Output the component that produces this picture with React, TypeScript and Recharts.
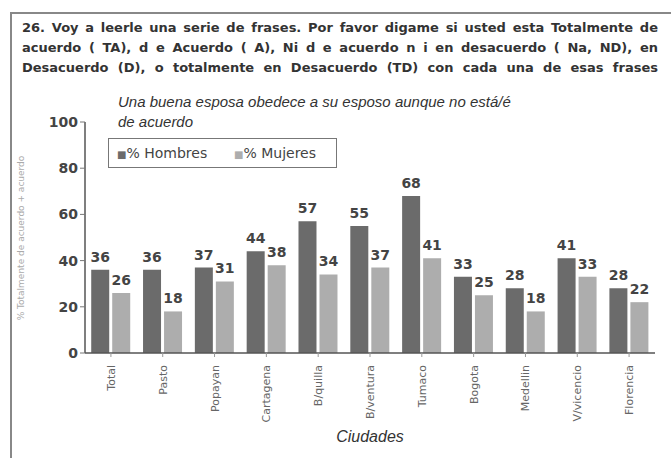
import { BarChart, Bar, XAxis, YAxis, Legend, LabelList } from 'recharts';

const ciudades = ['Total', 'Pasto', 'Popayan', 'Cartagena', 'B/quilla', 'B/ventura', 'Tumaco', 'Bogota', 'Medellin', 'V/vicencio', 'Florencia'];
const hombres = [36, 36, 37, 44, 57, 55, 68, 33, 28, 41, 28];
const mujeres = [26, 18, 31, 38, 34, 37, 41, 25, 18, 33, 22];
const yTicks = [0, 20, 40, 60, 80, 100];

const DARK = '#6b6b6b';
const LIGHT = '#adadad';
const FONT = '"DejaVu Sans", sans-serif';
const FONT2 = '"Liberation Sans", Arial, sans-serif';

const data = ciudades.map((c, i) => ({ ciudad: c, hombres: hombres[i], mujeres: mujeres[i] }));

// rotated city names under the axis
const CityTick = ({ x, y, payload }: any) => (
    <text
        x={0}
        y={0}
        transform={`translate(${x + 4}, ${y + 6}) rotate(-90)`}
        textAnchor="end"
        fontSize={11}
        fontFamily={FONT}
        fill="#666"
    >
        {payload.value}
    </text>
);

const LegendBox = () => (
    <div
        style={{
            border: '1.5px solid #777',
            width: 229,
            height: 30,
            boxSizing: 'border-box',
            display: 'flex',
            alignItems: 'center',
            fontFamily: FONT,
            fontSize: 14,
            color: '#444',
            background: '#fff',
        }}
    >
        <span style={{ marginLeft: 8, width: 117 }}>
            <span style={{ color: DARK, fontSize: 10 }}>■</span>% Hombres
        </span>
        <span>
            <span style={{ color: LIGHT, fontSize: 10 }}>■</span>% Mujeres
        </span>
    </div>
);

const lineStyle: React.CSSProperties = {
    position: 'absolute',
    left: 22,
    width: 636,
    textAlign: 'justify',
    textAlignLast: 'justify',
    fontFamily: FONT,
    fontWeight: 'bold',
    fontSize: 13,
    color: '#333',
    whiteSpace: 'nowrap',
};

export default function App() {
    return (
        <div style={{ position: 'absolute', left: 0, top: 0, width: 671, height: 458, background: '#fff', overflow: 'hidden' }}>
            {/* frame */}
            <div style={{ position: 'absolute', left: 10, top: 12, width: 661, height: 446, borderTop: '2px solid #888', borderLeft: '2px solid #888' }} />

            <div style={{ ...lineStyle, top: 20 }}>26. Voy a leerle una serie de frases. Por favor digame si usted esta Totalmente de</div>
            <div style={{ ...lineStyle, top: 40 }}>acuerdo ( TA), d e Acuerdo ( A), Ni d e acuerdo n i en desacuerdo ( Na, ND), en</div>
            <div style={{ ...lineStyle, top: 60 }}>Desacuerdo (D), o totalmente en Desacuerdo (TD) con cada una de esas frases</div>

            <div style={{ position: 'absolute', left: 118, top: 92, fontFamily: FONT2, fontStyle: 'italic', fontSize: 15, lineHeight: '20px', color: '#333' }}>
                Una buena esposa obedece a su esposo aunque no está/é
                <br />
                de acuerdo
            </div>

            <div
                style={{
                    position: 'absolute',
                    left: 21,
                    top: 238,
                    transform: 'translate(-50%, -50%) rotate(-90deg)',
                    fontFamily: FONT,
                    fontSize: 9,
                    color: '#aaa',
                    whiteSpace: 'nowrap',
                }}
            >
                % Totalmente de acuerdo + acuerdo
            </div>

            <div style={{ position: 'absolute', left: 370, top: 437, transform: 'translate(-50%, -50%)', fontFamily: FONT2, fontStyle: 'italic', fontSize: 16, color: '#333' }}>
                Ciudades
            </div>

            <div style={{ position: 'absolute', left: 0, top: 0 }}>
                <BarChart
                    width={671}
                    height={458}
                    data={data}
                    margin={{ top: 122, right: 16, left: 25, bottom: 5 }}
                    barCategoryGap="12%"
                    barGap={3}
                >
                    <XAxis
                        dataKey="ciudad"
                        interval={0}
                        height={70}
                        tick={<CityTick />}
                        axisLine={{ stroke: '#555', strokeWidth: 1.5 }}
                        tickLine={{ stroke: '#999' }}
                        tickSize={4}
                    />
                    <YAxis
                        domain={[0, 100]}
                        ticks={yTicks}
                        width={60}
                        tick={{ fontSize: 14, fontWeight: 'bold', fill: '#444', fontFamily: FONT }}
                        axisLine={{ stroke: '#555', strokeWidth: 1.5 }}
                        tickLine={{ stroke: '#777' }}
                        tickSize={5}
                    />
                    <Legend
                        content={<LegendBox />}
                        wrapperStyle={{ position: 'absolute', left: 108, top: 138, width: 230, height: 30 }}
                    />
                    <Bar dataKey="hombres" name="% Hombres" fill={DARK} isAnimationActive={false}>
                        <LabelList dataKey="hombres" position="top" offset={8} fontSize={14} fontWeight="bold" fill="#444" fontFamily={FONT} />
                    </Bar>
                    <Bar dataKey="mujeres" name="% Mujeres" fill={LIGHT} isAnimationActive={false}>
                        <LabelList dataKey="mujeres" position="top" offset={8} fontSize={14} fontWeight="bold" fill="#444" fontFamily={FONT} />
                    </Bar>
                </BarChart>
            </div>
        </div>
    );
}
